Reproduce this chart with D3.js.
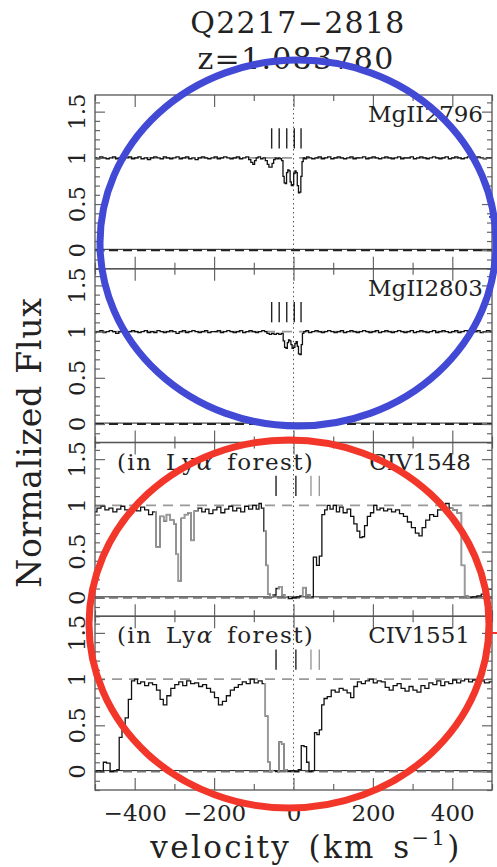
<!DOCTYPE html>
<html>
<head>
<meta charset="utf-8">
<script src="https://cdn.jsdelivr.net/npm/d3@7"></script>
<style>
  body { margin: 0; background: #fff; }
  svg { display: block; font-family: "DejaVu Serif", serif; }
</style>
</head>
<body>
<div id="chart-area"></div>
<script>
// Title
const titleLines = ["Q2217\u22122818", "z=1.083780"];

// Panel names (transitions)
const transitions = ["MgII2796", "MgII2803", "CIV1548", "CIV1551"];
const forestNote = [false, false, true, true];

// Velocity axis ticks (km/s)
const velMajor = [-400, -200, 0, 200, 400];
const velMinor = [-500, -300, -100, 100, 300, 500];
// Flux axis ticks
const fluxMajor = [0, 0.5, 1, 1.5];
const fluxMinor = [-0.2, -0.1, 0.1, 0.2, 0.3, 0.4, 0.6, 0.7, 0.8, 0.9, 1.1, 1.2, 1.3, 1.4, 1.6];

// Component markers (km/s)
const mgComponents = [-55, -36, -17, 2, 19];
const civComponents = [-44, 6, 44, 65];
const civComponentGrey = [false, false, true, true];

// Spectra: [velocity, normalized flux]
const mg2796 = [
  [-500,1.00],[-492,0.99],[-484,1.01],[-476,1.00],[-468,0.99],[-460,1.00],[-452,1.01],[-444,0.99],
  [-436,1.00],[-428,0.98],[-420,1.00],[-412,1.01],[-404,0.99],[-396,1.00],[-388,1.01],[-380,0.99],
  [-372,1.00],[-364,0.98],[-356,1.00],[-348,1.01],[-340,1.00],[-332,0.99],[-324,1.01],[-316,1.00],
  [-308,0.99],[-300,1.00],[-292,1.01],[-284,0.99],[-276,1.00],[-268,1.01],[-260,0.99],[-252,1.00],
  [-244,0.98],[-236,1.00],[-228,1.01],[-220,1.00],[-212,0.99],[-204,1.00],[-196,1.01],[-188,0.99],
  [-180,1.00],[-172,1.01],[-164,1.00],[-156,0.99],[-148,1.00],[-140,1.01],[-132,0.99],[-124,1.00],
  [-116,1.01],[-110,0.98],[-105,0.95],[-100,0.93],[-96,0.97],[-92,1.00],[-86,1.01],[-80,0.99],
  [-74,1.00],[-68,0.97],[-64,0.93],[-60,0.90],[-56,0.90],[-52,0.94],[-48,0.98],[-44,1.00],
  [-40,0.99],[-36,1.00],[-32,0.99],[-28,0.97],[-25,0.80],[-22,0.73],[-19,0.72],[-16,0.84],
  [-13,0.87],[-10,0.86],[-7,0.74],[-4,0.70],[-1,0.71],[2,0.83],[5,0.86],[8,0.84],
  [11,0.70],[14,0.62],[17,0.63],[20,0.80],[23,0.96],[26,1.00],[30,0.99],[36,1.01],
  [42,1.00],[50,0.99],[58,1.00],[66,1.01],[74,0.99],[82,1.00],[90,1.01],[98,0.99],
  [106,1.00],[114,1.01],[122,1.00],[130,0.99],[138,1.00],[146,1.01],[154,0.99],[162,1.00],
  [170,1.00],[178,1.01],[186,0.99],[194,1.00],[202,1.01],[210,1.00],[218,0.99],[226,1.00],
  [234,1.01],[242,1.00],[250,0.99],[258,1.00],[266,1.01],[274,0.99],[282,1.00],[290,1.00],
  [298,1.01],[306,0.99],[314,1.00],[322,1.01],[330,1.00],[338,0.99],[346,1.00],[354,1.01],
  [362,1.00],[370,0.99],[378,1.00],[386,1.01],[394,0.99],[402,1.00],[410,1.01],[418,1.00],
  [426,0.99],[434,1.00],[442,1.01],[450,0.99],[458,1.00],[466,1.01],[474,1.00],[482,0.99],
  [490,1.00],[500,1.00]
];

const mg2803 = [
  [-500,0.99],[-492,1.00],[-484,1.01],[-476,0.99],[-468,1.00],[-460,1.01],[-452,1.00],[-444,0.98],
  [-436,1.00],[-428,1.01],[-420,0.99],[-412,1.00],[-404,1.01],[-396,1.00],[-388,0.99],[-380,1.00],
  [-372,1.01],[-364,0.99],[-356,1.00],[-348,0.99],[-340,1.01],[-332,1.00],[-324,0.99],[-316,1.00],
  [-308,1.01],[-300,1.00],[-292,0.98],[-284,1.00],[-276,1.01],[-268,0.99],[-260,1.00],[-252,1.01],
  [-244,1.00],[-236,0.99],[-228,1.00],[-220,1.01],[-212,0.99],[-204,1.00],[-196,1.00],[-188,1.01],
  [-180,0.99],[-172,1.00],[-164,1.01],[-156,1.00],[-148,0.99],[-140,1.00],[-132,1.01],[-124,0.99],
  [-116,1.00],[-108,1.01],[-100,1.00],[-92,0.99],[-84,1.00],[-76,1.01],[-70,1.00],[-64,0.98],
  [-58,0.97],[-52,0.98],[-46,0.97],[-40,0.98],[-34,0.97],[-28,0.98],[-24,0.90],[-21,0.83],
  [-17,0.82],[-14,0.88],[-11,0.91],[-8,0.90],[-5,0.86],[-2,0.82],[2,0.83],[5,0.87],
  [8,0.89],[11,0.84],[14,0.76],[18,0.75],[21,0.86],[24,0.98],[28,1.00],[34,1.01],
  [42,0.99],[50,1.00],[58,1.01],[66,1.00],[74,0.99],[82,1.00],[90,1.01],[98,1.00],
  [106,0.99],[114,1.00],[122,1.01],[130,0.99],[138,1.00],[146,1.01],[154,1.00],[162,0.99],
  [170,1.00],[178,1.01],[186,1.00],[194,0.99],[202,1.00],[210,1.01],[218,0.99],[226,1.00],
  [234,1.01],[242,1.00],[250,0.99],[258,1.00],[266,1.01],[274,1.00],[282,0.99],[290,1.00],
  [298,1.01],[306,0.99],[314,1.00],[322,1.01],[330,1.00],[338,0.99],[346,1.00],[354,1.01],
  [362,0.99],[370,1.00],[378,1.01],[386,1.00],[394,0.99],[402,1.00],[410,1.01],[418,0.99],
  [426,1.00],[434,1.01],[442,1.00],[450,0.99],[458,1.00],[466,1.01],[474,0.99],[482,1.00],
  [490,1.01],[500,1.00]
];

const civ1548 = [
  [-500,0.93],[-490,0.97],[-480,0.99],[-470,0.95],[-460,0.97],[-450,0.93],[-440,0.96],[-430,0.99],
  [-420,0.95],[-410,0.92],[-400,0.97],[-390,0.94],[-380,0.98],[-370,0.95],[-360,0.90],[-350,0.93],
  [-342,0.55],[-330,0.88],[-324,0.83],[-316,0.90],[-305,0.84],[-298,0.80],[-293,0.47],[-287,0.18],
  [-279,0.86],[-270,0.90],[-262,0.92],[-255,0.62],[-245,0.94],[-236,0.97],[-226,0.93],[-218,0.96],
  [-208,0.91],[-198,0.95],[-188,0.98],[-178,0.92],[-168,0.96],[-158,0.99],[-148,0.94],[-138,0.97],
  [-128,0.93],[-118,0.99],[-108,0.96],[-98,1.00],[-90,0.96],[-84,1.02],[-78,0.97],[-72,0.72],
  [-67,0.35],[-63,0.04],[-55,0.01],[-48,0.03],[-40,0.10],[-33,0.12],[-26,0.03],[-18,0.01],
  [-8,-0.01],[2,0.00],[12,0.01],[20,0.02],[26,0.11],[37,0.03],[46,0.01],[54,0.44],
  [62,0.35],[68,0.45],[75,0.90],[82,0.95],[88,1.00],[96,0.96],[104,1.00],[112,0.93],
  [120,0.98],[130,0.92],[140,0.96],[148,0.88],[156,0.80],[164,0.72],[170,0.65],[176,0.66],
  [182,0.78],[190,0.88],[198,0.92],[206,1.00],[214,0.95],[222,0.97],[232,0.94],[242,0.96],
  [252,0.93],[262,0.95],[272,0.91],[282,0.88],[292,0.82],[302,0.76],[312,0.70],[320,0.67],
  [328,0.76],[338,0.84],[348,0.90],[358,0.88],[368,0.95],[378,0.98],[388,1.02],[396,0.97],
  [406,0.95],[418,0.92],[428,0.35],[434,0.02],[444,0.00],[456,0.01],[468,0.02],[478,0.04],
  [486,0.07],[494,0.09],[500,0.09]
];

const civ1551 = [
  [-500,0.00],[-490,0.01],[-482,0.00],[-476,0.10],[-466,0.09],[-458,0.00],[-448,0.01],[-442,0.02],
  [-436,0.37],[-428,0.48],[-420,0.58],[-412,0.78],[-404,0.98],[-396,1.00],[-390,0.95],[-380,0.97],
  [-370,0.93],[-360,0.96],[-350,0.94],[-340,0.88],[-332,0.78],[-324,0.72],[-314,0.82],[-304,0.90],
  [-294,0.94],[-284,0.97],[-274,0.93],[-264,0.98],[-254,0.95],[-244,0.96],[-234,0.92],[-224,0.94],
  [-214,0.90],[-204,0.86],[-194,0.80],[-184,0.72],[-174,0.76],[-164,0.82],[-154,0.88],[-144,0.91],
  [-134,0.94],[-124,0.97],[-114,0.95],[-104,1.00],[-94,0.96],[-84,0.98],[-74,0.95],[-68,0.60],
  [-62,0.10],[-57,0.00],[-50,0.01],[-40,0.00],[-33,0.32],[-27,0.30],[-21,0.02],[-12,0.00],
  [-2,0.01],[8,0.00],[16,0.02],[23,0.28],[30,0.27],[36,0.10],[42,0.00],[50,0.01],
  [56,0.42],[62,0.40],[68,0.45],[74,0.72],[80,0.79],[90,0.81],[100,0.88],[110,0.86],
  [120,0.90],[130,0.88],[140,0.85],[148,0.80],[156,0.92],[166,0.97],[176,0.95],[186,0.98],
  [196,1.00],[206,0.96],[216,0.98],[226,0.97],[236,0.91],[246,0.88],[256,0.93],[266,0.95],
  [276,0.90],[286,0.87],[296,0.92],[306,0.88],[316,0.86],[326,0.93],[336,0.90],[346,0.96],
  [356,0.94],[366,0.98],[376,0.93],[386,0.97],[396,0.95],[406,0.99],[416,0.96],[426,0.98],
  [436,1.00],[446,0.97],[456,0.99],[466,0.95],[476,0.98],[486,0.96],[500,0.97]
];

const spectra = [mg2796, mg2803, civ1548, civ1551];

// Velocity ranges drawn in grey
const greyRanges = [
  [],
  [],
  [[-350, -240], [-75, -50], [-40, -15], [20, 45], [395, 445]],
  [[-75, -50], [-40, -15]]
];

// Dimensions
const W = 497, H = 867;
const plotLeft = 95, plotRight = 492, plotTop = 95, panelH = 173.75;
const labelRight = [483, 483, 471, 470];

const svg = d3.select("#chart-area")
  .append("svg")
    .attr("width", W)
    .attr("height", H);

const x = d3.scaleLinear().domain([-500, 500]).range([plotLeft, plotRight]);

const line = d3.line().curve(d3.curveStep);

spectra.forEach((spec, i) => {
  const top = plotTop + i * panelH;
  const y = d3.scaleLinear().domain([-0.2, 1.68]).range([top + panelH, top]);
  const g = svg.append("g").attr("class", "panel");

  line.x(d => x(d[0])).y(d => y(d[1]));

  // continuum and zero
  g.append("line")
    .attr("x1", plotLeft).attr("x2", plotRight)
    .attr("y1", y(1)).attr("y2", y(1))
    .attr("stroke", "#999").attr("stroke-width", 1.8)
    .attr("stroke-dasharray", "10,7");
  g.append("line")
    .attr("x1", plotLeft).attr("x2", plotRight)
    .attr("y1", y(0.01)).attr("y2", y(0.01))
    .attr("stroke", "#222").attr("stroke-width", 1);
  g.append("line")
    .attr("x1", plotLeft).attr("x2", plotRight)
    .attr("y1", y(0)).attr("y2", y(0))
    .attr("stroke", i < 2 ? "#222" : "#777").attr("stroke-width", 2)
    .attr("stroke-dasharray", "9,5");

  // v = 0
  g.append("line")
    .attr("x1", x(0)).attr("x2", x(0))
    .attr("y1", top).attr("y2", top + panelH)
    .attr("stroke", "#555").attr("stroke-width", 1)
    .attr("stroke-dasharray", "1.5,3");

  // spectrum
  g.append("path")
    .datum(spec)
    .attr("d", line)
    .attr("fill", "none")
    .attr("stroke", "#111")
    .attr("stroke-width", 1.3);

  greyRanges[i].forEach((r, j) => {
    const id = "clip-" + i + "-" + j;
    svg.append("clipPath").attr("id", id)
      .append("rect")
        .attr("x", x(r[0])).attr("width", x(r[1]) - x(r[0]))
        .attr("y", top).attr("height", panelH);
    g.append("path")
      .datum(spec)
      .attr("d", line)
      .attr("clip-path", "url(#" + id + ")")
      .attr("fill", "none")
      .attr("stroke", "#9a9a9a")
      .attr("stroke-width", 1.5);
  });

  // component ticks
  const comps = i < 2 ? mgComponents : civComponents;
  g.selectAll(".comp")
    .data(comps)
    .enter().append("line")
      .attr("x1", d => x(d)).attr("x2", d => x(d))
      .attr("y1", y(1.1)).attr("y2", y(1.32))
      .attr("stroke", (d, k) => (i >= 2 && civComponentGrey[k]) ? "#999" : "#222")
      .attr("stroke-width", 1.4);

  // axes (ticks inward)
  const axes = [
    [d3.axisLeft(y).tickValues(fluxMajor).tickSize(-10), "translate(" + plotLeft + ",0)"],
    [d3.axisLeft(y).tickValues(fluxMinor).tickSize(-5), "translate(" + plotLeft + ",0)"],
    [d3.axisRight(y).tickValues(fluxMajor).tickSize(-10), "translate(" + plotRight + ",0)"],
    [d3.axisRight(y).tickValues(fluxMinor).tickSize(-5), "translate(" + plotRight + ",0)"],
    [d3.axisTop(x).tickValues(velMajor).tickSize(-12), "translate(0," + top + ")"],
    [d3.axisTop(x).tickValues(velMinor).tickSize(-6), "translate(0," + top + ")"],
    [d3.axisBottom(x).tickValues(velMajor).tickSize(-12), "translate(0," + (top + panelH) + ")"],
    [d3.axisBottom(x).tickValues(velMinor).tickSize(-6), "translate(0," + (top + panelH) + ")"]
  ];
  axes.forEach(a => {
    const ag = g.append("g").attr("transform", a[1])
      .call(a[0].tickFormat(""));
    ag.select(".domain").remove();
    ag.selectAll("line").attr("stroke", "#666").attr("stroke-width", 1.2);
  });

  // frame
  g.append("rect")
    .attr("x", plotLeft).attr("y", top)
    .attr("width", plotRight - plotLeft).attr("height", panelH)
    .attr("fill", "none").attr("stroke", "#555").attr("stroke-width", 1.3);

  // flux tick labels (rotated)
  g.selectAll(".ylab")
    .data(fluxMajor)
    .enter().append("text")
      .attr("transform", d => "translate(85," + y(d) + ") rotate(-90)")
      .attr("text-anchor", "middle")
      .attr("font-size", "23px")
      .attr("fill", "#222")
      .text(d3.format("~g"));

  // transition label
  g.append("text")
    .attr("x", labelRight[i])
    .attr("y", top + 27)
    .attr("text-anchor", "end")
    .attr("font-size", "23px")
    .attr("fill", "#222")
    .text(transitions[i]);

  if (forestNote[i]) {
    const note = g.append("text")
      .attr("x", 117)
      .attr("y", top + 27)
      .attr("font-size", "23px")
      .attr("letter-spacing", "1.4px")
      .attr("word-spacing", "5px")
      .attr("fill", "#222");
    note.append("tspan").text("(in Ly");
    note.append("tspan").attr("font-style", "italic").text("\u03b1");
    note.append("tspan").text(" forest)");
  }
});

// velocity tick labels
const xAxisLabels = svg.append("g")
  .attr("transform", "translate(0," + (plotTop + 4 * panelH) + ")")
  .call(d3.axisBottom(x).tickValues(velMajor).tickSize(0).tickPadding(8).tickFormat(d3.format("d")));
xAxisLabels.select(".domain").remove();
xAxisLabels.selectAll("text")
  .attr("font-family", "DejaVu Serif, serif")
  .attr("font-size", "23px")
  .attr("fill", "#222")
  .attr("dy", null)
  .attr("y", 31);

// axis titles
const xTitle = svg.append("text")
  .attr("x", 306)
  .attr("y", 858)
  .attr("text-anchor", "middle")
  .attr("font-size", "31px")
  .attr("letter-spacing", "2.4px")
  .attr("word-spacing", "5px")
  .attr("fill", "#222");
xTitle.append("tspan").text("velocity (km s");
xTitle.append("tspan").attr("font-size", "21px").attr("dy", -13).text("\u22121");
xTitle.append("tspan").attr("dy", 13).text(")");

svg.append("text")
  .attr("transform", "translate(41," + (plotTop + 2 * panelH) + ") rotate(-90)")
  .attr("text-anchor", "middle")
  .attr("font-size", "33px")
  .attr("letter-spacing", "0.8px")
  .attr("fill", "#222")
  .text("Normalized Flux");

// title
svg.selectAll(".title")
  .data(titleLines)
  .enter().append("text")
    .attr("x", (d, k) => k === 0 ? 298 : 296)
    .attr("y", (d, k) => k === 0 ? 33 : 69)
    .attr("text-anchor", "middle")
    .attr("font-size", "30px")
    .attr("letter-spacing", "1.3px")
    .attr("fill", "#222")
    .text(d => d);

// highlight rings
svg.append("ellipse")
  .attr("cx", 298).attr("cy", 243).attr("rx", 198).attr("ry", 183)
  .attr("fill", "none").attr("stroke", "#4249d4").attr("stroke-width", 7);
svg.append("line")
  .attr("x1", 489).attr("x2", 497).attr("y1", 217).attr("y2", 217)
  .attr("stroke", "#4249d4").attr("stroke-width", 2);
svg.append("ellipse")
  .attr("cx", 289).attr("cy", 624).attr("rx", 200).attr("ry", 184)
  .attr("fill", "none").attr("stroke", "#f2372a").attr("stroke-width", 7);
svg.append("line")
  .attr("x1", 490).attr("x2", 497).attr("y1", 633).attr("y2", 633)
  .attr("stroke", "#f2372a").attr("stroke-width", 2);
</script>
</body>
</html>
